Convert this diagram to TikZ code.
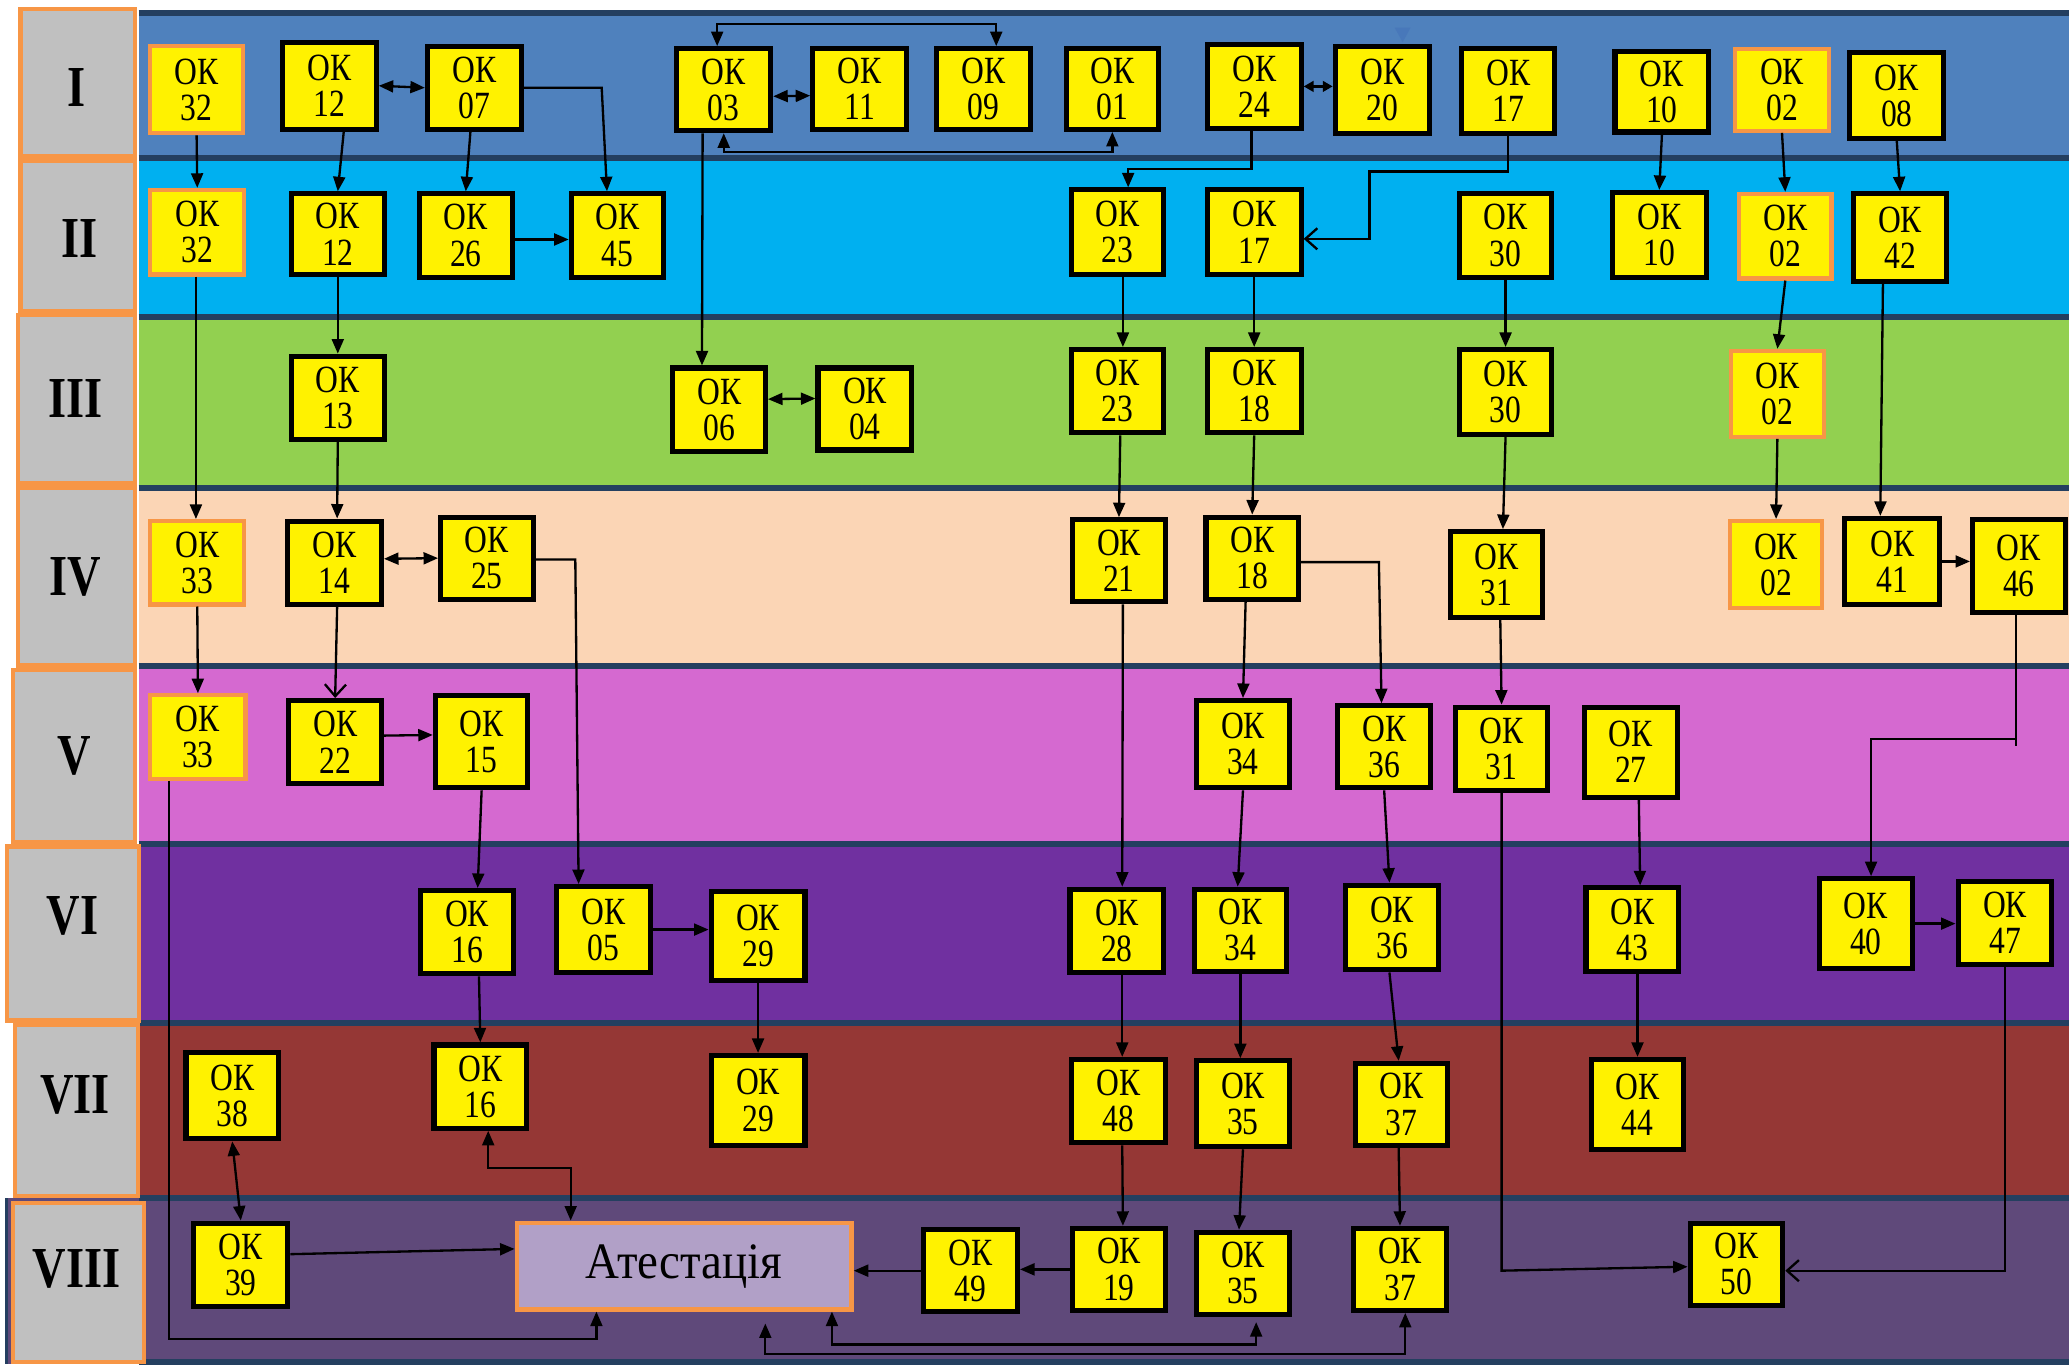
\documentclass[tikz,border=0pt]{standalone}
\usepackage{fontspec}
\setmainfont{Liberation Serif}
\newfontfamily\okfont[FakeStretch=0.82]{Liberation Serif}
\newfontfamily\labfont[FakeStretch=0.8]{Liberation Serif}
\newfontfamily\attfont[FakeStretch=0.92]{Liberation Serif}
\usetikzlibrary{arrows.meta,calc}
\definecolor{cI}{HTML}{4F81BD}
\definecolor{cII}{HTML}{00B0F0}
\definecolor{cIII}{HTML}{92D050}
\definecolor{cIV}{HTML}{FBD5B5}
\definecolor{cV}{HTML}{D569D0}
\definecolor{cVI}{HTML}{7030A0}
\definecolor{cVII}{HTML}{953735}
\definecolor{cVIII}{HTML}{5F497A}
\definecolor{navy}{HTML}{243F60}
\definecolor{orng}{HTML}{F79646}
\definecolor{lgrey}{HTML}{C0C0C0}
\definecolor{lav}{HTML}{B1A0C7}
\definecolor{ghost}{HTML}{4472B8}
\newcommand{\okbox}[7][okb]{%
  \node[#1, minimum width={(#5-#3)*0.01cm-1.1pt}, minimum height={(#6-#4)*0.01cm-1.1pt}] (#2) at ({(#3+#5)/2},{(#4+#6)/2}) {ОК\\#7};}
\newcommand{\lcell}[8]{%
  \node[cell, minimum width={(#4-#2)*0.01cm-0.9pt}, minimum height={(#5-#3)*0.01cm-0.9pt}] (#1) at ({(#2+#4)/2},{(#3+#5)/2}) {};
  \node[labtxt] (#1t) at (#7,#8) {#6};}
\begin{document}
\begin{tikzpicture}[x=0.01cm,y=-0.01cm,
  okb/.style={draw=black, line width=1.1pt, fill=yellow, inner sep=0pt, align=center,
    font=\okfont\fontsize{8.3}{7.8}\selectfont},
  oko/.style={okb, draw=orng, line width=0.9pt},
  cell/.style={draw=orng, line width=0.9pt, fill=lgrey, inner sep=0pt},
  labtxt/.style={inner sep=0pt, font=\labfont\fontsize{12.5}{13}\selectfont\bfseries},
  bandline/.style={draw=navy, line width=1.3pt},
  arw/.style={-{Triangle[length=1.1mm,width=0.9mm]}, line width=0.5pt},
  arw2/.style={{Triangle[length=1.1mm,width=0.9mm]}-{Triangle[length=1.1mm,width=0.9mm]}, line width=0.5pt},
  arw2s/.style={{Triangle[length=0.75mm,width=0.8mm]}-{Triangle[length=0.75mm,width=0.8mm]}, line width=0.6pt},
  arwo/.style={-{Straight Barb[length=0.9mm,width=1.6mm]}, line width=0.5pt}]
\useasboundingbox (0,0) rectangle (1568,1034);
% bands
\fill[cI] (105,10) rectangle (1568,120);
\fill[cII] (105,120) rectangle (1568,240);
\fill[cIII] (105,240) rectangle (1568,370);
\fill[cIV] (105,370) rectangle (1568,505);
\fill[cV] (105,505) rectangle (1568,640);
\fill[cVI] (105,640) rectangle (1568,775);
\fill[cVII] (105,775) rectangle (1568,908);
\fill[cVIII] (5,908) rectangle (1568,1034);
\foreach \yy in {10,120,240,370,505,640,775,908,1032}
  \draw[bandline] (105,\yy) -- (1568,\yy);
\draw[navy, line width=0.8pt] (5,908) -- (5,1034);
% ghost tip
\fill[ghost, opacity=0.6] (1057,21) -- (1069,21) -- (1063,32) -- cycle;
% label cells
\lcell{LI}{14}{5}{104}{120}{I}{58}{66}
\lcell{LII}{14}{120}{104}{237}{II}{60}{181}
\lcell{LIII}{12}{237}{104}{368}{III}{57}{302}
\lcell{LIV}{12}{368}{104}{506}{IV}{57}{437}
\lcell{LV}{8}{506}{104}{640}{V}{56}{573}
\lcell{LVI}{4}{640}{107}{775}{VI}{55}{694}
\lcell{LVII}{10}{775}{106}{908}{VII}{57}{830}
\lcell{LVIII}{8}{910}{111}{1034}{VIII}{58}{962}
% row I
\okbox[oko]{n32a}{112}{33}{186}{103}{32}
\okbox{n12a}{212}{30}{287}{100}{12}
\okbox{n07}{322}{33}{397}{100}{07}
\okbox{n03}{511}{35}{586}{101}{03}
\okbox{n11}{614}{35}{689}{100}{11}
\okbox{n09}{708}{35}{783}{100}{09}
\okbox{n01}{806}{35}{880}{100}{01}
\okbox{n24}{913}{32}{988}{99}{24}
\okbox{n20}{1010}{33}{1085}{103}{20}
\okbox{n17a}{1106}{35}{1180}{103}{17}
\okbox{n10a}{1222}{37}{1297}{102}{10}
\okbox[oko]{n02a}{1313}{35}{1388}{101}{02}
\okbox{n08}{1400}{38}{1475}{107}{08}
% row II
\okbox[oko]{n32b}{112}{142}{187}{210}{32}
\okbox{n12b}{219}{145}{293}{210}{12}
\okbox{n26}{316}{145}{390}{212}{26}
\okbox{n45}{431}{145}{505}{212}{45}
\okbox{n23a}{810}{142}{884}{210}{23}
\okbox{n17b}{913}{142}{988}{210}{17}
\okbox{n30a}{1104}{145}{1178}{212}{30}
\okbox{n10b}{1220}{144}{1295}{212}{10}
\okbox[oko]{n02b}{1316}{145}{1390}{213}{02}
\okbox{n42}{1403}{145}{1477}{215}{42}
% row III
\okbox{n13}{219}{268}{293}{335}{13}
\okbox{n06}{508}{277}{582}{344}{06}
\okbox{n04}{618}{277}{693}{343}{04}
\okbox{n23b}{810}{263}{884}{330}{23}
\okbox{n18a}{913}{263}{988}{330}{18}
\okbox{n30b}{1104}{263}{1178}{331}{30}
\okbox[oko]{n02c}{1310}{264}{1384}{333}{02}
% row IV
\okbox[oko]{n33a}{112}{393}{187}{460}{33}
\okbox{n14}{216}{393}{291}{460}{14}
\okbox{n25}{332}{390}{406}{456}{25}
\okbox{n21}{811}{392}{885}{458}{21}
\okbox{n18b}{912}{390}{986}{456}{18}
\okbox{n31a}{1097}{401}{1171}{470}{31}
\okbox[oko]{n02d}{1309}{393}{1383}{463}{02}
\okbox{n41}{1396}{391}{1472}{460}{41}
\okbox{n46}{1493}{392}{1567}{466}{46}
% row V
\okbox[oko]{n33b}{112}{525}{188}{592}{33}
\okbox{n22}{217}{529}{291}{596}{22}
\okbox{n15}{328}{525}{402}{599}{15}
\okbox{n34a}{905}{529}{979}{599}{34}
\okbox{n36a}{1012}{533}{1086}{599}{36}
\okbox{n31b}{1101}{534}{1175}{601}{31}
\okbox{n27}{1199}{534}{1273}{606}{27}
% row VI
\okbox{n16a}{317}{673}{391}{740}{16}
\okbox{n05}{420}{670}{495}{739}{05}
\okbox{n29a}{537}{674}{612}{745}{29}
\okbox{n28}{809}{672}{884}{739}{28}
\okbox{n34b}{903}{672}{977}{738}{34}
\okbox{n36b}{1018}{669}{1092}{737}{36}
\okbox{n43}{1200}{671}{1274}{738}{43}
\okbox{n40}{1377}{664}{1451}{736}{40}
\okbox{n47}{1482}{666}{1557}{733}{47}
% row VII
\okbox{n38}{139}{796}{213}{865}{38}
\okbox{n16b}{327}{790}{401}{857}{16}
\okbox{n29b}{537}{798}{612}{870}{29}
\okbox{n48}{810}{801}{885}{868}{48}
\okbox{n35a}{905}{802}{979}{871}{35}
\okbox{n37a}{1025}{804}{1099}{870}{37}
\okbox{n44}{1204}{801}{1278}{873}{44}
% row VIII
\okbox{n39}{145}{925}{220}{992}{39}
\node[draw=orng, line width=1pt, fill=lav, inner sep=0pt,
  minimum width={257*0.01cm-1pt}, minimum height={69*0.01cm-1pt},
  font=\attfont\fontsize{11}{12}\selectfont] (att) at (518.5,959.5) {Атестація};
\okbox{n49}{698}{930}{773}{996}{49}
\okbox{n19}{811}{929}{885}{995}{19}
\okbox{n35b}{905}{932}{979}{998}{35}
\okbox{n37b}{1024}{929}{1098}{995}{37}
\okbox{n50}{1279}{925}{1353}{991}{50}
% connectors
\draw[arw] (n32a.south) -- (n32b.north);
\draw[arw] ($(n12a.south)+(11,0)$) -- (n12b.north);
\draw[arw2] (n12a.east) -- (n07.west);
\draw[arw] ($(n07.south)+(-3,0)$) -- (n26.north);
\draw[arw] (n07.east) -- ++(59,0) -- ($(n45.north)+(-8,0)$);
\draw[arw] ($(n26.east)+(0,3)$) -- ($(n45.west)+(0,3)$);
\draw[arw] ($(n32b.south)+(-1,0)$) -- ($(n33a.north)+(-1,0)$);
\draw[arw] (n12b.south) -- (n13.north);
\draw[arw] (n13.south) -- ($(n14.north)+(2,0)$);
\draw[arw2] ($(n14.east)+(0,-3)$) -- (n25.west);
\draw[arw] (n33a.south) -- (n33b.north);
\draw[arwo] ($(n14.south)+(2,0)$) -- (n22.north);
\draw[arw] ($(n22.east)+(0,-5)$) -- ($(n15.west)+(0,-5)$);
\draw[arw] ($(n25.east)+(0,1)$) -- ++(30,0) -- ($(n05.north)+(-19,0)$);
\draw[arw] (n15.south) -- ($(n16a.north)+(8,0)$);
\draw[arw] (n05.east) -- (n05.east -| n29a.west);
\draw[arw] ($(n16a.south)+(9,0)$) -- (n16b.north);
\draw[arw] (n29a.south) -- (n29b.north);
\draw[arw] ($(n33b.south)+(-22,0)$) -- ++(0,423) -| ($(att.south)+(-66.5,0)$);
\draw[arw2] (n38.south) -- (n39.north);
\draw[arw] ($(n39.east)+(0,-8)$) -- ($(att.west)+(0,-13)$);
\draw[arw2] ($(n16b.south)+(6,0)$) -- ++(0,28) -| ($(att.north)+(-86,0)$);
\draw[arw] ($(n03.south)+(-16,0)$) -- ($(n06.north)+(-13,0)$);
\draw[arw2] ($(n06.east)+(0,-8)$) -- ($(n04.west)+(0,-8)$);
\draw[arw2] ($(n03.east)+(0,5)$) -- ($(n11.west)+(0,5)$);
\draw[arw2] ($(n03.north)+(-5,0)$) -- ++(0,-17) -| ($(n09.north)+(9.5,0)$);
\draw[arw2] (n03.south) -- ++(0,14) -| (n01.south);
\draw[arw2s] (n24.east) -- (n24.east -| n20.west);
\draw[arw] ($(n24.south)+(-2,0)$) -- ++(0,29) -| ($(n23a.north)+(8,0)$);
\draw[arwo] (n17a.south) -- ++(0,27) -- ++(-105,0) |- ($(n17b.east)+(0,5)$);
\draw[arw] (n10a.south) -- (n10b.north);
\draw[arw] (n02a.south) -- (n02b.north);
\draw[arw] (n08.south) -- (n42.north);
\draw[arw] ($(n23a.south)+(4,0)$) -- ($(n23b.north)+(4,0)$);
\draw[arw] (n17b.south) -- (n18a.north);
\draw[arw] (n30a.south) -- (n30b.north);
\draw[arw] (n02b.south) -- (n02c.north);
\draw[arw] ($(n42.south)+(-13,0)$) -- ($(n41.north)+(-9,0)$);
\draw[arw] ($(n23b.south)+(2,0)$) -- (n21.north);
\draw[arw] (n18a.south) -- (n18b.north);
\draw[arw] (n30b.south) -- ($(n31a.north)+(5,0)$);
\draw[arw] (n02c.south) -- (n02d.north);
\draw[arw] (n41.east) -- (n41.east -| n46.west);
\draw[arw] ($(n21.south)+(3,0)$) -- ($(n28.north)+(4,0)$);
\draw[arw] ($(n18b.south)+(-5,0)$) -- (n34a.north);
\draw[arw] ($(n18b.east)+(0,3)$) -- ++(59,0) -- ($(n36a.north)+(-2,0)$);
\draw[arw] ($(n31a.south)+(3,0)$) -- (n31b.north);
\draw[line width=0.5pt] ($(n46.south)+(-2,0)$) -- ++(0,99);
\draw[arw] ($(n46.south)+(-2,94)$) -| ($(n40.north)+(4,0)$);
\draw[arw] (n34a.south) -- ($(n34b.north)+(-2,0)$);
\draw[arw] (n36a.south) -- ($(n36b.north)+(-2,0)$);
\draw[arw] (n31b.south) -- ++(0,362) -- ($(n50.west)+(0,2)$);
\draw[arw] ($(n27.south)+(6,0)$) -- ($(n43.north)+(6,0)$);
\draw[arw] (n40.east) -- (n40.east -| n47.west);
\draw[arwo] (n47.south) -- ++(0,230) -- ($(n50.east)+(0,5)$);
\draw[arw] ($(n28.south)+(4,0)$) -- ($(n48.north)+(3,0)$);
\draw[arw] (n34b.south) -- ($(n35a.north)+(-2,0)$);
\draw[arw] ($(n36b.south)+(-2,0)$) -- ($(n37a.north)+(-2,0)$);
\draw[arw] ($(n43.south)+(4,0)$) -- (n44.north);
\draw[arw] ($(n48.south)+(3,0)$) -- ($(n19.north)+(3,0)$);
\draw[arw] (n35a.south) -- ($(n35b.north)+(-3,0)$);
\draw[arw] ($(n37a.south)+(-2,0)$) -- (n37b.north);
\draw[arw] (n19.west) -- (n19.west -| n49.east);
\draw[arw] (n49.west) -- (n49.west -| att.east);
\draw[arw2] ($(att.south)+(112,0)$) -- ++(0,25) -| ($(n35b.south)+(10,4)$);
\draw[arw2] ($(att.south)+(61.5,9)$) -- ++(0,23) -| ($(n37b.south)+(4,0)$);
\end{tikzpicture}
\end{document}
